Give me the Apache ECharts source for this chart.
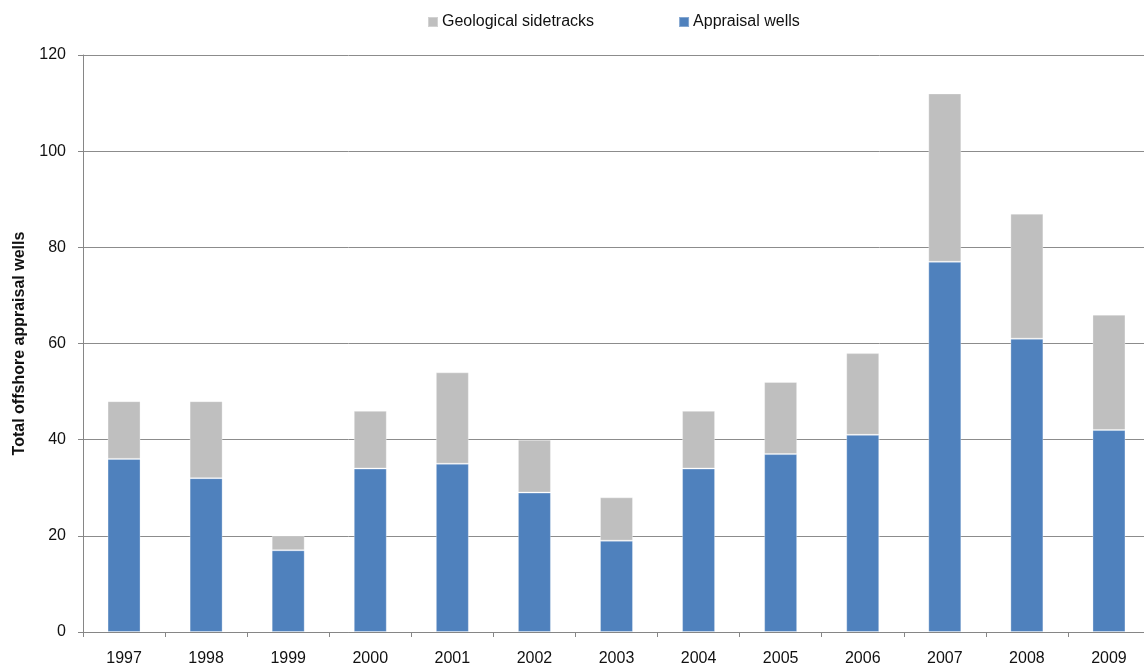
<!DOCTYPE html>
<html>
<head>
<meta charset="utf-8">
<script src="https://cdn.jsdelivr.net/npm/echarts@6/dist/echarts.min.js"></script>
<style>
  html, body { margin: 0; padding: 0; background: #fff; }
  #chart { width: 1144px; height: 666px; }
</style>
</head>
<body>
<div id="chart"></div>
<script>
  // data
  const years = ['1997', '1998', '1999', '2000', '2001', '2002', '2003', '2004', '2005', '2006', '2007', '2008', '2009'];
  const appraisalWells = [36, 32, 17, 34, 35, 29, 19, 34, 37, 41, 77, 61, 42];
  const geoSidetracks = [12, 16, 3, 12, 19, 11, 9, 12, 15, 17, 35, 26, 24];
  const yTicks = [0, 20, 40, 60, 80, 100, 120];

  const font = 'Liberation Sans, Arial, sans-serif';
  const chart = echarts.init(document.getElementById('chart'));

  chart.setOption({
    animation: false,
    textStyle: { fontFamily: font },
    legend: {
      top: 14,
      left: 427,
      padding: 0,
      itemWidth: 10,
      itemHeight: 10,
      itemGap: 84,
      icon: 'rect',
      textStyle: { fontSize: 16, color: '#111', fontFamily: font, padding: [0, 0, 0, -1] },
      data: ['Geological sidetracks', 'Appraisal wells']
    },
    // plot runs past the right edge, as in the original
    grid: { left: 83, top: 55, width: 1067, bottom: 34, outerBoundsMode: 'none', containLabel: false },
    xAxis: {
      type: 'category',
      data: years,
      axisLine: { lineStyle: { color: '#868686', width: 1 } },
      axisTick: { show: true, length: 5, lineStyle: { color: '#868686' } },
      axisLabel: { fontSize: 16, color: '#111', margin: 19, fontFamily: font }
    },
    yAxis: {
      type: 'value',
      min: yTicks[0],
      max: yTicks[yTicks.length - 1],
      interval: 20,
      name: 'Total offshore appraisal wells',
      nameLocation: 'middle',
      nameGap: 55,
      nameTextStyle: { fontSize: 16, fontWeight: 'bold', color: '#111', fontFamily: font },
      axisLine: { show: true, lineStyle: { color: '#868686', width: 1 } },
      axisTick: { show: true, length: 5, lineStyle: { color: '#868686' } },
      axisLabel: { fontSize: 16, color: '#111', margin: 17, fontFamily: font },
      splitLine: { lineStyle: { color: '#8c8c8c', width: 1 } }
    },
    series: [
      {
        name: 'Appraisal wells',
        type: 'bar',
        stack: 'total',
        barWidth: 33,
        itemStyle: { color: '#4F81BD', borderColor: 'rgba(255,255,255,0.3)', borderWidth: 1 },
        data: appraisalWells
      },
      {
        name: 'Geological sidetracks',
        type: 'bar',
        stack: 'total',
        barWidth: 33,
        itemStyle: { color: '#BFBFBF', borderColor: 'rgba(255,255,255,0.3)', borderWidth: 1 },
        data: geoSidetracks
      }
    ]
  });
</script>
</body>
</html>
